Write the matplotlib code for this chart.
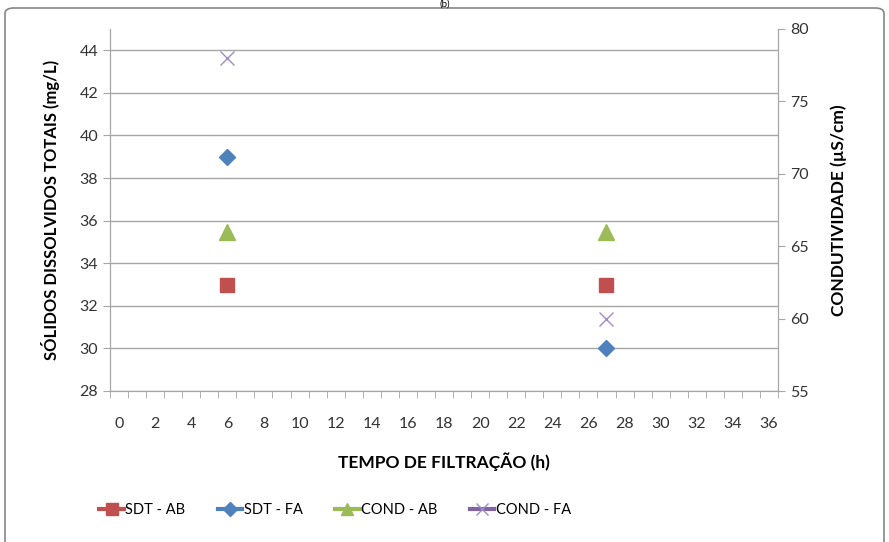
import matplotlib.pyplot as plt
from matplotlib.lines import Line2D
from matplotlib.patches import FancyBboxPatch

plt.rcParams['font.family'] = ['Lato', 'DejaVu Sans']

# dados
tempo = [6, 27]
sdt_ab = [33, 33]
sdt_fa = [39, 30]
cond_ab = [66, 66]
cond_fa = [78, 60]

x_labels = [str(v) for v in range(0, 37, 2)]

c_ab = '#C0504D'
c_fa = '#4F81BD'
c_cab = '#9BBB59'
c_cfa = '#8064A2'
c_cfa_m = '#A08CC8'
grid_c = '#A6A6A6'

fig = plt.figure(figsize=(8.89, 5.42), dpi=100)
ax = fig.add_axes([110 / 889, 1 - 391 / 542, (778 - 110) / 889, (391 - 29) / 542])
ax2 = ax.twinx()

ax.plot(tempo, sdt_ab, ls='none', marker='s', ms=10, color=c_ab, zorder=3)
ax.plot(tempo, sdt_fa, ls='none', marker='D', ms=8, color=c_fa, zorder=3)
ax2.plot(tempo, cond_ab, ls='none', marker='^', ms=11, color=c_cab, zorder=3)
ax2.plot(tempo, cond_fa, ls='none', marker='x', ms=10, mew=1, color=c_cfa_m, zorder=3)

ax.set_xlim(-0.5, 36.5)
ax.set_ylim(28, 45)
ax2.set_ylim(55, 80)

ax.set_yticks(range(28, 45, 2))
ax.set_xticks(range(0, 37, 2))
ax.set_xticklabels(x_labels)
ax.set_xticks([v + 0.5 for v in range(-1, 37)], minor=True)
ax.tick_params(axis='x', which='major', length=0, pad=19, labelsize=11.5, labelcolor='#333333')
ax.tick_params(axis='x', which='minor', length=5, color=grid_c, direction='out')
ax.tick_params(axis='y', length=5, color=grid_c, labelsize=11.5, labelcolor='#333333')
ax2.set_yticks(range(55, 81, 5))
ax2.tick_params(axis='y', length=5, color=grid_c, labelsize=11.5, labelcolor='#333333')

ax.grid(axis='y', color=grid_c, lw=1)
ax.set_axisbelow(True)
for a in (ax, ax2):
    a.spines['top'].set_visible(False)
    for s in ('left', 'right', 'bottom'):
        a.spines[s].set_color(grid_c)

ax.set_ylabel('SÓLIDOS DISSOLVIDOS TOTAIS (mg/L)', fontsize=12, fontweight='bold', labelpad=14)
ax2.set_ylabel('CONDUTIVIDADE (µS/cm)', fontsize=12.5, fontweight='bold', labelpad=16)
ax.set_xlabel('TEMPO DE FILTRAÇÃO (h)', fontsize=12.5, fontweight='bold', labelpad=15)

handles = [
    Line2D([], [], color=c_ab, lw=3, marker='s', ms=9),
    Line2D([], [], color=c_fa, lw=3, marker='D', ms=7),
    Line2D([], [], color=c_cab, lw=3, marker='^', ms=9),
    Line2D([], [], color=c_cfa, lw=3, marker='x', ms=9, mec=c_cfa_m, mew=1),
]
names = ['SDT - AB', 'SDT - FA', 'COND - AB', 'COND - FA']
fig.legend(handles, names, loc='center left', bbox_to_anchor=(86 / 889, 1 - 510 / 542),
           ncol=4, frameon=False, handlelength=1.7, handletextpad=0.1,
           columnspacing=2.2, fontsize=10.5)

border = FancyBboxPatch((5 / 889, -0.05), 879 / 889, 1.05 - 8 / 542,
                        boxstyle='round,pad=0,rounding_size=0.01', transform=fig.transFigure,
                        fill=False, edgecolor='#868686', lw=1.2)
fig.patches.append(border)
fig.text(0.5, 1.0, '(b)', ha='center', va='top', fontsize=7)

fig.savefig('out.png', dpi=100)
